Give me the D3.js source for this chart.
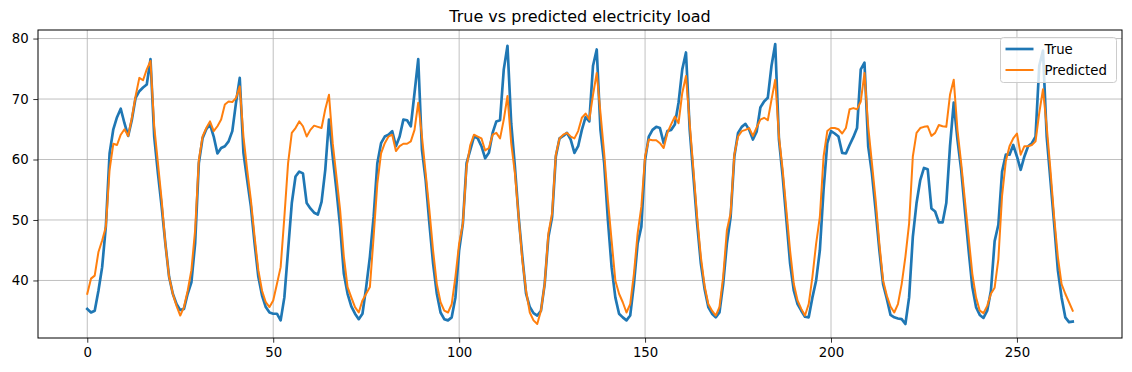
<!DOCTYPE html>
<html>
<head>
<meta charset="utf-8">
<script src="https://cdn.jsdelivr.net/npm/d3@7"></script>
<style>
  html, body { margin: 0; padding: 0; background: #ffffff; }
</style>
</head>
<body>
<div id="load-chart"></div>
<script>

/* DATA ******************************************************************************/

// True load (blue), one value per hour step
var trueLoad = [
  35.3, 34.7, 35.0, 38.3, 42.2, 49.0, 61.0, 65.0, 67.0, 68.4, 66.0, 63.9, 66.6, 70.2, 71.3, 71.9,
  72.4, 76.6, 63.8, 57.7, 52.2, 46.1, 40.6, 37.8, 36.1, 35.1, 35.3, 37.8, 39.7, 46.1, 59.4, 63.5,
  65.0, 65.8, 63.8, 61.0, 61.9, 62.2, 63.0, 64.7, 69.4, 73.5, 61.1, 56.6, 52.2, 46.1, 40.6, 37.5,
  35.6, 34.7, 34.5, 34.5, 33.4, 37.2, 45.0, 52.8, 57.2, 58.0, 57.7, 52.8, 51.9, 51.2, 50.9, 53.0,
  58.3, 66.6, 60.5, 55.0, 48.9, 41.1, 37.8, 35.7, 34.5, 33.6, 34.5, 38.9, 43.9, 50.5, 59.4, 62.7,
  63.8, 64.1, 64.7, 62.2, 63.8, 66.6, 66.5, 65.5, 71.0, 76.6, 61.6, 56.6, 49.4, 42.8, 37.8, 34.7,
  33.6, 33.4, 33.9, 37.2, 45.0, 49.4, 59.4, 61.6, 63.8, 63.5, 62.2, 60.2, 61.1, 64.4, 66.3, 66.5,
  74.9, 78.8, 66.0, 58.8, 50.5, 43.9, 37.8, 35.6, 34.6, 34.2, 35.0, 39.4, 47.2, 50.5, 60.5, 63.5,
  63.9, 64.4, 63.3, 61.1, 62.2, 64.9, 67.0, 66.3, 75.5, 78.2, 64.9, 59.4, 50.0, 42.2, 37.2, 34.5,
  33.9, 33.4, 34.2, 39.4, 46.1, 48.9, 59.9, 63.8, 64.9, 65.4, 65.2, 62.7, 64.7, 64.9, 65.8, 69.4,
  74.9, 77.7, 64.9, 57.2, 49.4, 42.8, 38.6, 35.6, 34.5, 33.9, 34.7, 39.4, 46.1, 50.5, 60.5, 64.4,
  65.4, 65.9, 64.9, 63.3, 64.6, 68.6, 69.6, 70.2, 75.5, 79.1, 63.3, 57.2, 50.0, 42.8, 38.3, 36.1,
  35.0, 34.0, 33.9, 37.2, 40.0, 45.0, 55.0, 62.7, 64.7, 64.3, 63.8, 61.1, 61.0, 62.4, 63.7, 65.2,
  74.9, 76.0, 62.2, 57.7, 51.6, 45.0, 39.4, 37.0, 34.3, 33.9, 33.7, 33.6, 32.8, 37.2, 47.2, 52.8,
  56.6, 58.6, 58.4, 51.9, 51.4, 49.6, 49.6, 52.8, 62.2, 69.4, 63.3, 58.3, 51.6, 45.0, 38.9, 35.6,
  34.3, 33.8, 35.0, 38.3, 46.5, 49.2, 58.0, 60.8, 60.8, 62.4, 60.5, 58.3, 60.5, 62.2, 62.7, 63.8,
  75.5, 78.0, 63.8, 56.6, 49.4, 41.7, 37.2, 33.9, 33.1, 33.2
];

// Predicted load (orange)
var predictedLoad = [
  37.8, 40.3, 40.8, 44.7, 46.6, 48.9, 58.3, 62.6, 62.4, 64.1, 65.0, 63.9, 66.9, 70.5, 73.5, 73.1,
  74.9, 76.3, 65.5, 59.4, 53.3, 46.1, 40.6, 37.8, 35.8, 34.2, 35.6, 38.3, 41.7, 48.3, 59.9, 63.8,
  65.2, 66.3, 64.7, 65.5, 66.6, 69.1, 69.6, 69.5, 70.2, 72.1, 63.8, 58.3, 53.3, 47.2, 41.7, 38.3,
  36.4, 35.6, 36.7, 39.4, 42.2, 50.5, 59.4, 64.4, 65.2, 66.3, 65.5, 63.8, 64.9, 65.6, 65.4, 65.2,
  68.3, 70.7, 62.7, 57.2, 51.6, 43.9, 38.9, 37.2, 35.6, 34.7, 36.7, 37.8, 38.9, 47.2, 56.0, 61.0,
  62.7, 63.8, 64.1, 61.4, 62.2, 62.6, 62.6, 63.0, 64.9, 69.4, 63.8, 57.7, 51.6, 44.9, 39.4, 36.4,
  35.0, 34.7, 36.1, 40.6, 46.1, 49.4, 58.8, 62.4, 64.1, 63.8, 63.5, 61.5, 61.9, 64.1, 64.4, 63.5,
  66.6, 70.5, 62.7, 57.7, 50.5, 43.3, 38.3, 34.7, 33.4, 32.8, 35.0, 39.4, 47.8, 51.1, 60.8, 63.5,
  64.1, 64.4, 63.8, 63.5, 64.7, 66.9, 67.6, 66.6, 70.7, 74.3, 67.7, 61.0, 53.3, 46.6, 40.0, 37.8,
  36.4, 34.7, 36.1, 41.1, 47.8, 52.2, 60.5, 63.3, 63.2, 63.2, 62.7, 61.9, 64.4, 65.8, 67.1, 66.0,
  71.0, 73.8, 66.0, 58.3, 50.5, 43.9, 39.1, 36.1, 35.0, 34.2, 35.6, 40.6, 48.3, 51.1, 60.8, 63.8,
  64.7, 64.9, 65.2, 63.9, 65.3, 66.6, 66.9, 66.5, 69.9, 73.2, 63.8, 58.3, 51.6, 44.9, 39.4, 36.7,
  35.3, 34.2, 36.1, 40.6, 46.1, 50.5, 60.5, 64.7, 65.2, 65.2, 65.0, 64.3, 65.2, 68.3, 68.5, 68.3,
  69.6, 74.3, 65.5, 59.4, 53.3, 46.1, 40.0, 37.5, 35.7, 34.7, 36.1, 39.4, 43.9, 49.4, 60.5, 64.4,
  65.2, 65.4, 65.5, 63.9, 64.4, 65.7, 65.5, 65.4, 70.7, 73.2, 64.9, 59.4, 53.3, 47.2, 41.1, 37.2,
  35.0, 34.6, 35.8, 37.8, 38.8, 43.5, 54.0, 59.7, 62.2, 63.5, 64.3, 60.8, 62.2, 62.2, 62.4, 63.0,
  67.7, 71.6, 65.5, 58.3, 50.5, 43.9, 39.4, 37.8, 36.4, 35.0
];

// Tick labels and legend names
var xTicks = [0, 50, 100, 150, 200, 250];
var yTicks = [40, 50, 60, 70, 80];
var seriesNames = ["True", "Predicted"];
var chartTitle = "True vs predicted electricity load";

var drawChart = function(){

    /* SETTINGS **************************************************************************/

    var fontFamily = "DejaVu Sans";
    var width = 1132;
    var height = 372;
    var plot = {left: 38, right: 1122, top: 30, bottom: 338};
    var colors = ["#1f77b4", "#ff7f0e"];
    var lineWidths = [2.67, 2];
    var gridColor = "#b0b0b0";

    var svg = d3.select("#load-chart")
        .append("svg")
        .attr("width", width)
        .attr("height", height)
        .style("display", "block")
        .style("font-family", fontFamily);

    // matplotlib style 5% margins around the data
    var n = trueLoad.length;
    var xPad = (n - 1) * 0.05;
    var yMin = d3.min(trueLoad.concat(predictedLoad));
    var yMax = d3.max(trueLoad.concat(predictedLoad));
    var yPad = (yMax - yMin) * 0.05;

    var x = d3.scaleLinear()
        .domain([-xPad, n - 1 + xPad])
        .range([plot.left, plot.right]);
    var y = d3.scaleLinear()
        .domain([yMin - yPad, yMax + yPad])
        .range([plot.bottom, plot.top]);

    // Grid lines
    var grid = svg.append("g").attr("stroke", gridColor).attr("stroke-width", 0.8);
    grid.selectAll(".vgrid")
        .data(xTicks)
        .join("line")
        .attr("x1", d => x(d)).attr("x2", d => x(d))
        .attr("y1", plot.top).attr("y2", plot.bottom);
    grid.selectAll(".hgrid")
        .data(yTicks)
        .join("line")
        .attr("x1", plot.left).attr("x2", plot.right)
        .attr("y1", d => y(d)).attr("y2", d => y(d));

    // Clip lines to the axes box
    svg.append("clipPath").attr("id", "plot-clip")
        .append("rect")
        .attr("x", plot.left).attr("y", plot.top)
        .attr("width", plot.right - plot.left)
        .attr("height", plot.bottom - plot.top);

    var line = d3.line()
        .x((d, i) => x(i))
        .y(d => y(d));

    var series = [trueLoad, predictedLoad];
    svg.append("g")
        .attr("clip-path", "url(#plot-clip)")
        .selectAll("path")
        .data(series)
        .join("path")
        .attr("d", line)
        .attr("fill", "none")
        .attr("stroke", (d, i) => colors[i])
        .attr("stroke-width", (d, i) => lineWidths[i])
        .attr("stroke-linejoin", "round")
        .attr("stroke-linecap", "square");

    // Axes
    var xAxis = d3.axisBottom(x)
        .tickValues(xTicks)
        .tickSize(4.7)
        .tickPadding(4.7)
        .tickFormat(d3.format("d"));
    var yAxis = d3.axisLeft(y)
        .tickValues(yTicks)
        .tickSize(4.7)
        .tickPadding(4.7)
        .tickFormat(d3.format("d"));

    var gx = svg.append("g")
        .attr("transform", `translate(0,${plot.bottom})`)
        .call(xAxis);
    var gy = svg.append("g")
        .attr("transform", `translate(${plot.left},0)`)
        .call(yAxis);

    [gx, gy].forEach(function(g){
        g.select(".domain").remove();
        g.selectAll(".tick line").attr("stroke", "#000").attr("stroke-width", 0.8);
        g.selectAll(".tick text")
            .attr("fill", "#000")
            .attr("font-family", fontFamily)
            .attr("font-size", 13.3);
    });

    // Axes frame
    svg.append("rect")
        .attr("x", plot.left).attr("y", plot.top)
        .attr("width", plot.right - plot.left)
        .attr("height", plot.bottom - plot.top)
        .attr("fill", "none")
        .attr("stroke", "#000")
        .attr("stroke-width", 1);

    // Title
    svg.append("text")
        .attr("x", (plot.left + plot.right) / 2)
        .attr("y", 22)
        .attr("text-anchor", "middle")
        .attr("font-size", 16)
        .attr("fill", "#000")
        .text(chartTitle);

    // Legend (top right)
    var legend = svg.append("g").attr("transform", "translate(1000.5,37.5)");
    legend.append("rect")
        .attr("width", 116)
        .attr("height", 45)
        .attr("rx", 3)
        .attr("fill", "rgba(255,255,255,0.8)")
        .attr("stroke", "#cccccc")
        .attr("stroke-width", 1);

    var items = legend.selectAll(".item")
        .data(seriesNames)
        .join("g")
        .attr("transform", (d, i) => `translate(0,${11.5 + i * 21})`);
    items.append("line")
        .attr("x1", 5).attr("x2", 33)
        .attr("stroke", (d, i) => colors[i])
        .attr("stroke-width", (d, i) => lineWidths[i]);
    items.append("text")
        .attr("x", 44)
        .attr("dy", "0.35em")
        .attr("font-size", 13.3)
        .attr("fill", "#000")
        .text(d => d);
}

window.addEventListener("load", drawChart)
</script>
</body>
</html>
